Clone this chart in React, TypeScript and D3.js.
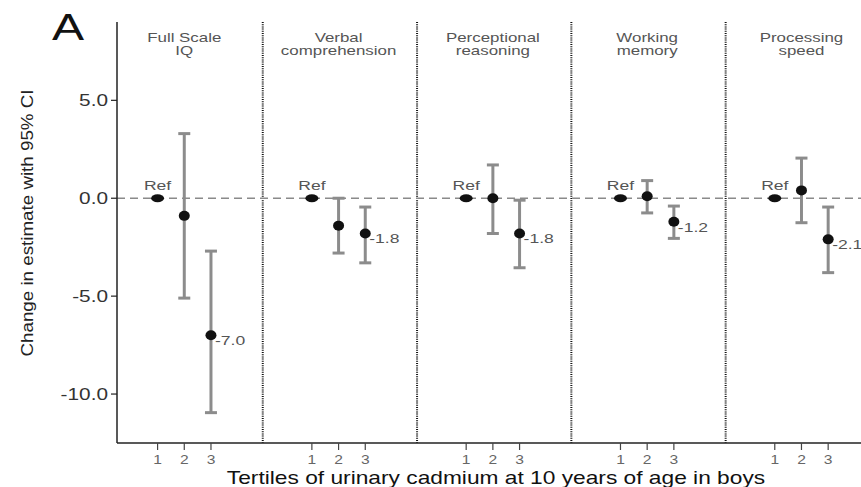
import * as d3 from 'd3'
import React from 'react'

// outcome panels, tertiles of urinary cadmium
const panelTitles = [
  ['Full Scale', 'IQ'],
  ['Verbal', 'comprehension'],
  ['Perceptional', 'reasoning'],
  ['Working', 'memory'],
  ['Processing', 'speed'],
]
const tertiles = [1, 2, 3]
const estimates = [
  [0, -0.9, -7.0],
  [0, -1.4, -1.8],
  [0, 0.0, -1.8],
  [0, 0.1, -1.2],
  [0, 0.4, -2.1],
]
const lowerCI = [
  [null, -5.1, -10.95],
  [null, -2.8, -3.3],
  [null, -1.8, -3.55],
  [null, -0.75, -2.05],
  [null, -1.25, -3.8],
]
const upperCI = [
  [null, 3.3, -2.7],
  [null, 0.0, -0.45],
  [null, 1.7, -0.1],
  [null, 0.9, -0.4],
  [null, 2.05, -0.45],
]
const valueLabels = ['-7.0', '-1.8', '-1.8', '-1.2', '-2.1']
const yTicks = [5, 0, -5, -10]

const width = 861
const height = 487
const panelStep = 5.78
const dividerOffset = 4.94
const SX = 1.3 // the original is stretched sideways
const font = 'Liberation Sans, Arial, sans-serif'

const x = d3.scaleLinear().domain([-0.52, 27.35]).range([117, 861])
const y = d3.scaleLinear().domain([-12.5, 9]).range([443, 22])
const pos = (p: number, t: number) => x(p * panelStep + t)

function SText({ x, y, size, fill = '#222', anchor = 'start', children }: any) {
  return (
    <text
      transform={`translate(${x},${y}) scale(${SX},1)`}
      fontSize={size}
      fill={fill}
      textAnchor={anchor}
      fontFamily={font}
    >
      {children}
    </text>
  )
}

export default function App() {
  const y0 = y(0)
  const top = y.range()[1]
  const bottom = y.range()[0]
  const left = x.range()[0]
  const right = x.range()[1]

  return (
    <svg width={width} height={height} style={{ position: 'absolute', left: 0, top: 0, background: '#fff' }}>
      <rect width={width} height={height} fill="#fff" />

      {/* panel dividers */}
      {panelTitles.slice(0, -1).map((_, p) => {
        const dx = x(p * panelStep + dividerOffset)
        return (
          <line key={p} x1={dx} x2={dx} y1={top} y2={bottom} stroke="#111" strokeWidth={2} strokeDasharray="1,1.2" />
        )
      })}

      {/* zero reference line */}
      <line x1={left} x2={right} y1={y0} y2={y0} stroke="#8a8a8a" strokeWidth={1.5} strokeDasharray="8,5" />

      {/* axes */}
      <line x1={left} x2={left} y1={top} y2={bottom} stroke="#222" strokeWidth={1.5} />
      <line x1={left} x2={right} y1={bottom} y2={bottom} stroke="#222" strokeWidth={1.5} />
      {yTicks.map((t) => (
        <g key={t}>
          <line x1={left - 6} x2={left} y1={y(t)} y2={y(t)} stroke="#222" strokeWidth={1.2} />
          <SText x={left - 9} y={y(t) + 6} size={16} fill="#333" anchor="end">
            {t.toFixed(1)}
          </SText>
        </g>
      ))}
      {panelTitles.map((_, p) =>
        tertiles.map((t) => (
          <g key={`${p}-${t}`}>
            <line x1={pos(p, t)} x2={pos(p, t)} y1={bottom} y2={bottom + 7} stroke="#444" strokeWidth={1.2} />
            <SText x={pos(p, t)} y={bottom + 21} size={12} fill="#666" anchor="middle">
              {t}
            </SText>
          </g>
        ))
      )}

      {/* panel titles */}
      {panelTitles.map((lines, p) =>
        lines.map((s, i) => (
          <SText key={`${p}-${i}`} x={pos(p, 2)} y={42 + i * 13} size={13} fill="#555" anchor="middle">
            {s}
          </SText>
        ))
      )}

      {/* error bars and estimates */}
      {estimates.map((row, p) =>
        row.map((v, i) => {
          const cx = pos(p, tertiles[i])
          const lo = lowerCI[p][i]
          const hi = upperCI[p][i]
          return (
            <g key={`${p}-${i}`}>
              {lo !== null && hi !== null && (
                <g stroke="#8c8c8c" strokeWidth={3}>
                  <line x1={cx} x2={cx} y1={y(hi)} y2={y(lo)} />
                  <line x1={cx - 6} x2={cx + 6} y1={y(hi)} y2={y(hi)} />
                  <line x1={cx - 6} x2={cx + 6} y1={y(lo)} y2={y(lo)} />
                </g>
              )}
              <ellipse cx={cx} cy={y(v)} rx={i === 0 ? 6.5 : 5.5} ry={i === 0 ? 4 : 5} fill="#111" />
              {i === 0 && (
                <SText x={cx} y={y(v) - 8} size={13.5} fill="#555" anchor="middle">
                  Ref
                </SText>
              )}
              {i === 2 && (
                <SText x={cx + 4} y={y(v) + 10} size={13.5} fill="#555">
                  {valueLabels[p]}
                </SText>
              )}
            </g>
          )
        })
      )}

      {/* axis titles */}
      <text
        transform={`translate(33,223) rotate(-90)`}
        fontSize={16}
        fill="#222"
        textAnchor="middle"
        fontFamily={font}
        textLength={267}
        lengthAdjust="spacingAndGlyphs"
      >
        Change in estimate with 95% CI
      </text>
      <SText x={496} y={484} size={17.5} fill="#111" anchor="middle">
        Tertiles of urinary cadmium at 10 years of age in boys
      </SText>
      <SText x={52} y={40} size={37} fill="#111">
        A
      </SText>
    </svg>
  )
}
